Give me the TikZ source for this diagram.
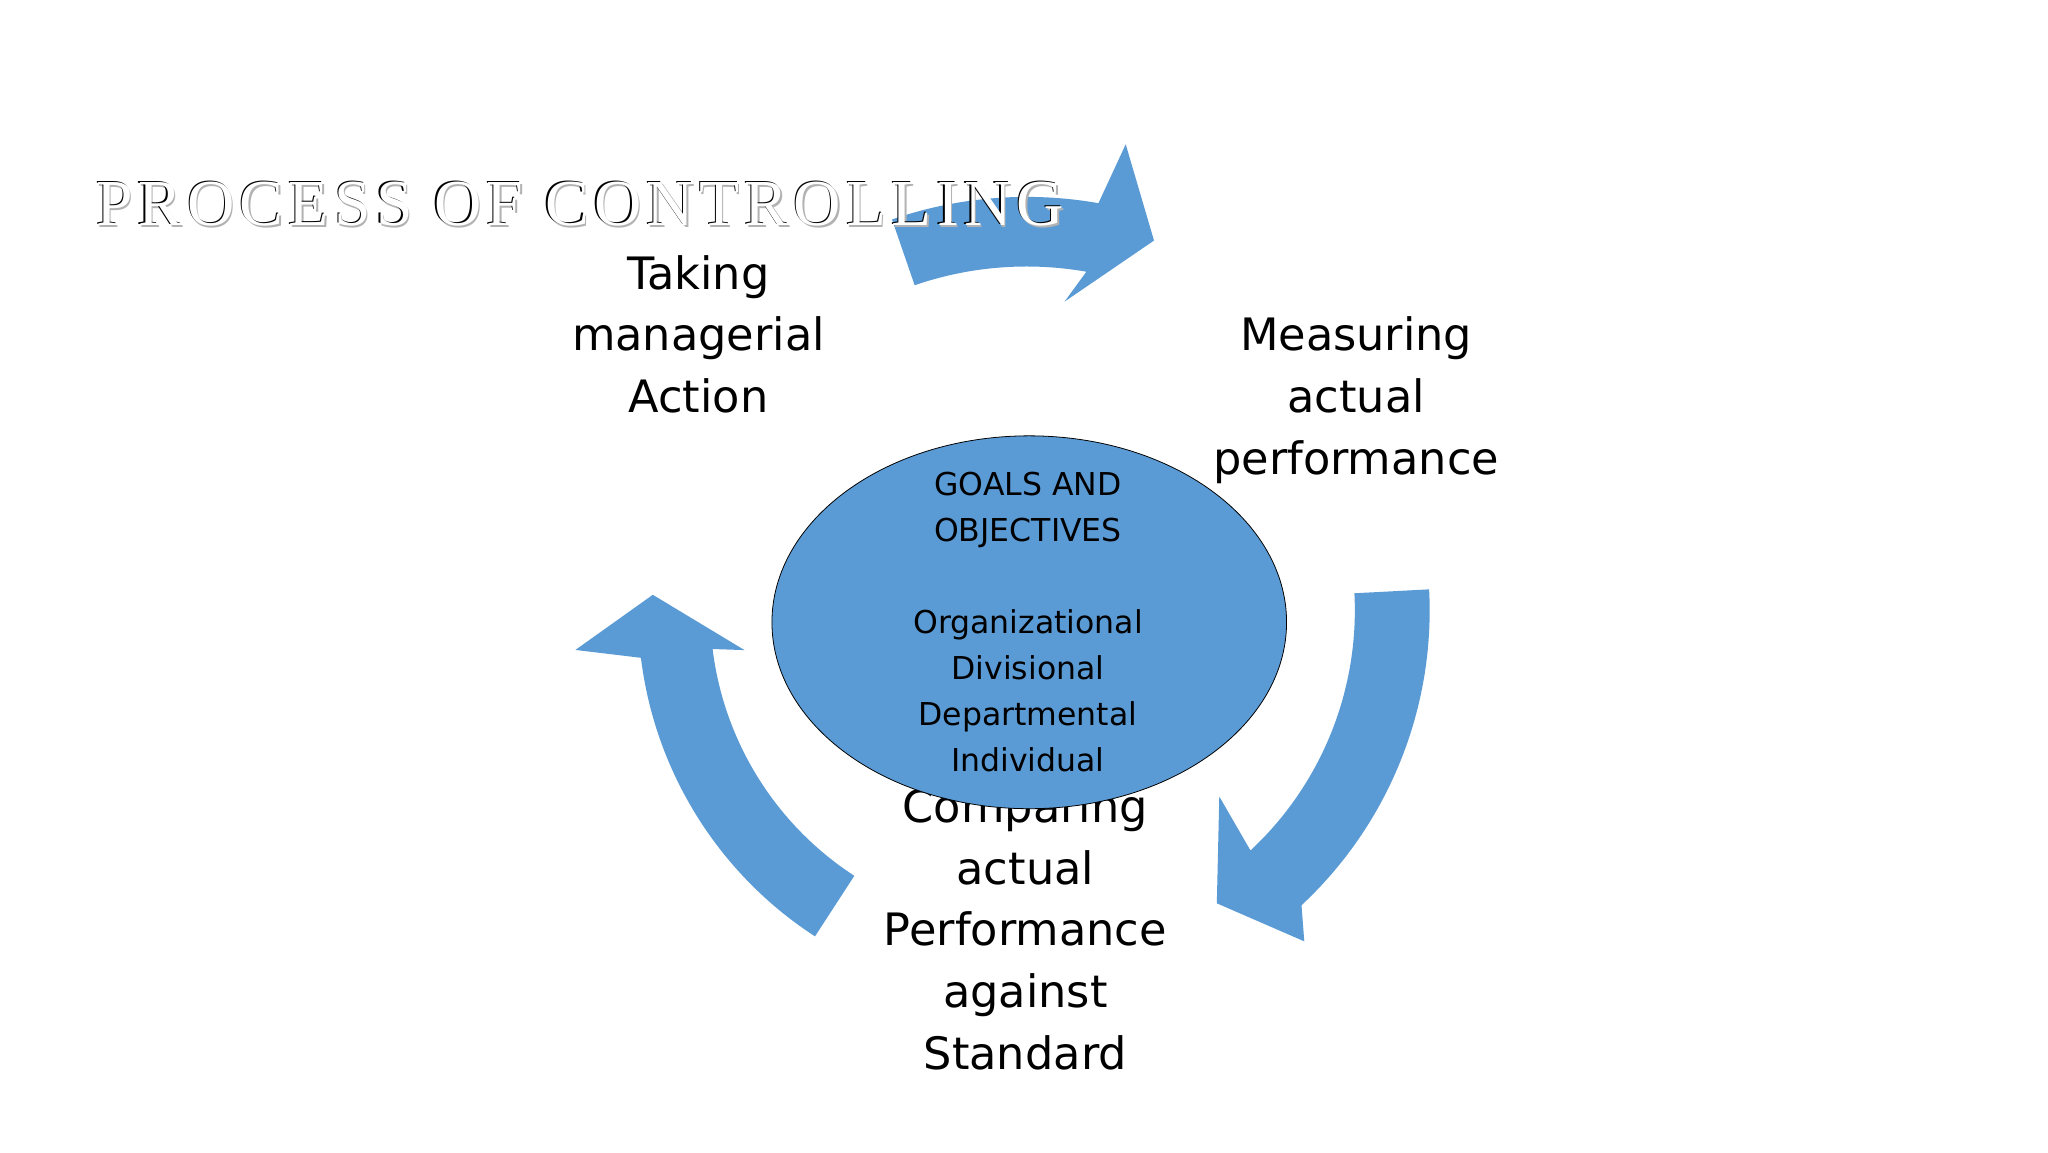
\documentclass[tikz,border=0pt]{standalone}
\usepackage{fontspec}
\setmainfont{DejaVu Sans}
\newfontfamily\titlefont[LetterSpace=8]{Liberation Serif}
\begin{document}
\begin{tikzpicture}[x=1pt,y=1pt,
  blk/.style={fill=arrblue,draw=none},
  lbl/.style={align=center,font=\fontsize{34}{47}\selectfont,text=black,anchor=north},
  inner/.style={align=center,font=\fontsize{24}{35}\selectfont,text=black},
  ttl/.style={anchor=base west,font=\titlefont\fontsize{50}{50}\selectfont}]
\definecolor{arrblue}{HTML}{5B9BD5}
\useasboundingbox[fill=white] (0,0) rectangle (1560,878);
\begin{scope}[shift={(782,413)}]
\fill[blk] (109:265pt) -- (109:315pt) arc[start angle=109,end angle=80,radius=315pt]
  -- (78:363pt) -- (71:298pt) -- (83:237pt) -- (80:262pt)
  arc[start angle=80,end angle=109,radius=262pt] -- cycle;
\fill[blk] (3:250pt) -- (3:307pt) arc[start angle=3,end angle=-47,radius=307pt]
  -- (-50:329pt) -- (-57:266pt) -- (-44:204pt) -- (-47:250pt)
  arc[start angle=-47,end angle=3,radius=250pt] -- cycle;
\fill[blk] (237:241pt) -- (237:296pt) arc[start angle=237,end angle=187,radius=296pt]
  -- (185:345pt) -- (177.6:285pt) -- (188:217pt) -- (187:241pt)
  arc[start angle=187,end angle=237,radius=241pt] -- cycle;
\end{scope}
\node[lbl] (take) at (532,687) {Taking\\managerial\\Action};
\node[lbl] (meas) at (1033,640) {Measuring\\actual\\performance};
\node[lbl] (comp) at (781,281) {Comparing\\actual\\Performance\\against\\Standard};
\draw[fill=arrblue,draw=black,line width=0.6pt] (784,404) ellipse[x radius=196,y radius=142];
\node[inner,anchor=north] (goals) at (783,522) {GOALS AND\\OBJECTIVES\\[35pt]Organizational\\Divisional\\Departmental\\Individual};
\node[ttl,text=gray!60] (tsh) at (71,705) {PROCESS OF CONTROLLING};
\node[ttl,text=black] (tdk) at (69,707) {PROCESS OF CONTROLLING};
\node[ttl,text=white] (title) at (70,706) {PROCESS OF CONTROLLING};
\end{tikzpicture}
\end{document}
